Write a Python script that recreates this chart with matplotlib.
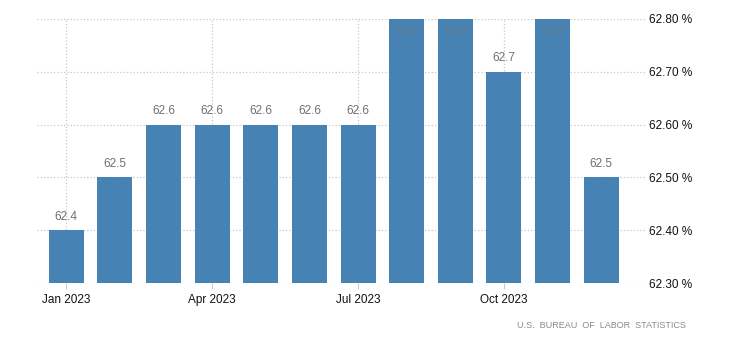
import matplotlib.pyplot as plt

plt.rcParams['font.family'] = ['Liberation Sans', 'DejaVu Sans']

months = ['Jan', 'Feb', 'Mar', 'Apr', 'May', 'Jun', 'Jul', 'Aug', 'Sep', 'Oct', 'Nov', 'Dec']
values = [62.4, 62.5, 62.6, 62.6, 62.6, 62.6, 62.6, 62.8, 62.8, 62.7, 62.8, 62.5]
tick_idx = [0, 3, 6, 9]
tick_labels = ['Jan 2023', 'Apr 2023', 'Jul 2023', 'Oct 2023']
y_ticks = [62.3, 62.4, 62.5, 62.6, 62.7, 62.8]

fig = plt.figure(figsize=(7.3, 3.51), dpi=100)
ax = fig.add_axes([0.0507, 0.1937, 0.8329, 0.7522])

x = list(range(len(values)))
ax.bar(x, values, width=0.72, color='#4682b4', zorder=2)
ax.set_ylim(62.3, 62.8)
ax.set_xlim(-0.6, 11.9)

for xi, v in zip(x, values):
    if v >= 62.8:
        ax.text(xi, 62.8 - 0.014, f'{v:.1f}', ha='center', va='top',
                fontsize=8.5, color='#6b7b8c', zorder=3)
    else:
        ax.text(xi, v + 0.014, f'{v:.1f}', ha='center', va='bottom',
                fontsize=8.5, color='#6e6e78', zorder=3)

ax.yaxis.tick_right()
ax.set_yticks(y_ticks)
ax.set_yticklabels([f'{t:.2f} %' for t in y_ticks])
ax.set_xticks(tick_idx)
ax.set_xticklabels(tick_labels)
ax.tick_params(axis='y', length=0, pad=3, labelsize=8.5, labelcolor='#111111')
ax.tick_params(axis='x', length=4, color='#cccccc', pad=4, labelsize=8.5, labelcolor='#111111')

ax.grid(True, linestyle=':', color='#c8c8c8', linewidth=0.9, zorder=0)
ax.set_axisbelow(True)
for s in ax.spines.values():
    s.set_visible(False)

fig.text(0.94, 0.072, 'U.S.  BUREAU  OF  LABOR  STATISTICS', ha='right', va='center',
         fontsize=6.5, color='#8a8a8a')

fig.savefig('out.png', dpi=100)
